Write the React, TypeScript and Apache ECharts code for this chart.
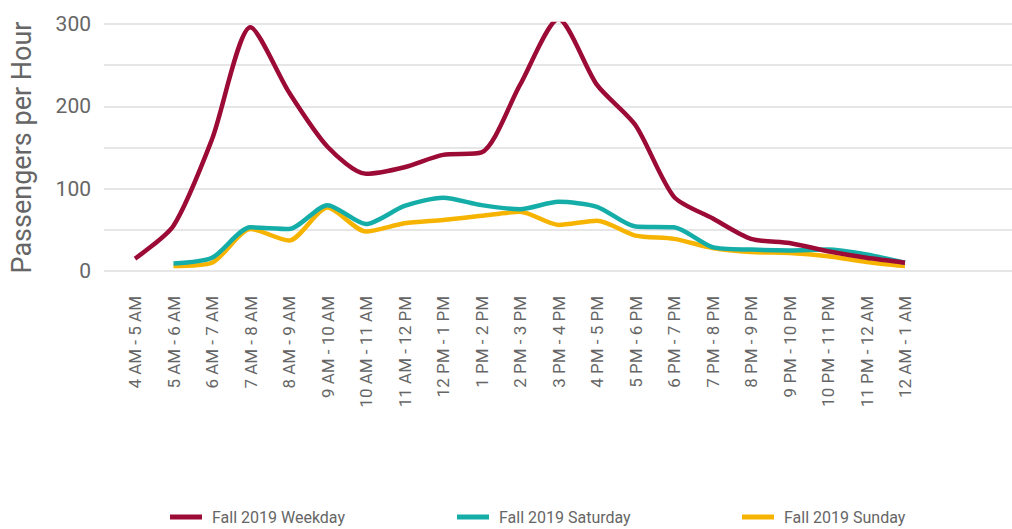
import React, { useEffect, useRef } from "react";
import * as echarts from "echarts";

const categories = [
  "4 AM - 5 AM", "5 AM - 6 AM", "6 AM - 7 AM", "7 AM - 8 AM", "8 AM - 9 AM",
  "9 AM - 10 AM", "10 AM - 11 AM", "11 AM - 12 PM", "12 PM - 1 PM", "1 PM - 2 PM",
  "2 PM - 3 PM", "3 PM - 4 PM", "4 PM - 5 PM", "5 PM - 6 PM", "6 PM - 7 PM",
  "7 PM - 8 PM", "8 PM - 9 PM", "9 PM - 10 PM", "10 PM - 11 PM", "11 PM - 12 AM",
  "12 AM - 1 AM",
];

const weekday = [15, 55, 160, 296, 217, 151, 118, 126, 141, 144, 226, 306, 226, 177, 90, 64, 39, 34, 24, 16, 10];
const saturday = [null, 9, 16, 53, 51, 80, 57, 79, 89, 80, 75, 84, 78, 54, 53, 29, 26, 25, 26, 20, 10];
const sunday = [null, 6, 10, 51, 37, 77, 48, 58, 62, 67, 72, 56, 61, 43, 39, 28, 23, 22, 18, 11, 6];

const yTicks = [0, 100, 200, 300];

const seriesNames = ["Fall 2019 Weekday", "Fall 2019 Saturday", "Fall 2019 Sunday"];
const colors = ["#9C0A36", "#15ADA8", "#F6B400"];

const FONT = "Roboto, sans-serif";
const TEXT = "#666666";

export default function App() {
  const ref = useRef<HTMLDivElement>(null);
  useEffect(() => {
    if (!ref.current) return;
    const chart = echarts.init(ref.current, undefined, { renderer: "svg" });
    const dataSets = [weekday, saturday, sunday];
    const legendLefts = [165, 452, 737];
    chart.setOption({
      animation: false,
      textStyle: { fontFamily: FONT },
      grid: [
        { left: 93, right: 0, top: 24, bottom: 258, containLabel: false },
        { left: 115.75, right: 87.75, top: 24, bottom: 258, containLabel: false },
      ],
      xAxis: [
        { type: "value", gridIndex: 0, show: false, min: 0, max: 1 },
        {
          type: "category",
          gridIndex: 1,
          data: categories,
          boundaryGap: true,
          axisLine: { show: false },
          axisTick: { show: false },
          axisLabel: {
            rotate: 90,
            interval: 0,
            margin: 25,
            color: TEXT,
            fontSize: 17,
            fontFamily: FONT,
          },
        },
      ],
      yAxis: [
        {
          type: "value",
          gridIndex: 0,
          min: 0,
          max: 300,
          interval: 50,
          name: "Passengers per Hour",
          nameLocation: "middle",
          nameGap: 69,
          nameTextStyle: { color: TEXT, fontSize: 27, fontFamily: FONT },
          axisLine: { show: false },
          axisTick: { show: false },
          splitLine: { lineStyle: { color: "#E6E6E6", width: 2 } },
          axisLabel: {
            color: TEXT,
            fontSize: 21,
            margin: 13,
            fontFamily: FONT,
            formatter: (v: number) => (yTicks.includes(v) ? String(v) : ""),
          },
        },
        { type: "value", gridIndex: 1, min: 0, max: 300, show: false },
      ],
      legend: seriesNames.map((n, i) => ({
        data: [n],
        left: legendLefts[i],
        top: 504,
        icon: "rect",
        itemWidth: 32,
        itemHeight: 5,
        itemGap: 0,
        textStyle: { color: TEXT, fontSize: 16, fontFamily: FONT, padding: [0, 0, 0, 5] },
      })),
      series: seriesNames.map((n, i) => ({
        name: n,
        type: "line",
        xAxisIndex: 1,
        yAxisIndex: 1,
        data: dataSets[i],
        smooth: 0.25,
        showSymbol: false,
        symbol: "none",
        connectNulls: false,
        lineStyle: { color: colors[i], width: 4.5 },
        itemStyle: { color: colors[i] },
        z: 10 - i,
      })),
    });
    return () => chart.dispose();
  }, []);
  return <div ref={ref} style={{ width: 1012, height: 529, position: "absolute", left: 0, top: 0 }} />;
}
